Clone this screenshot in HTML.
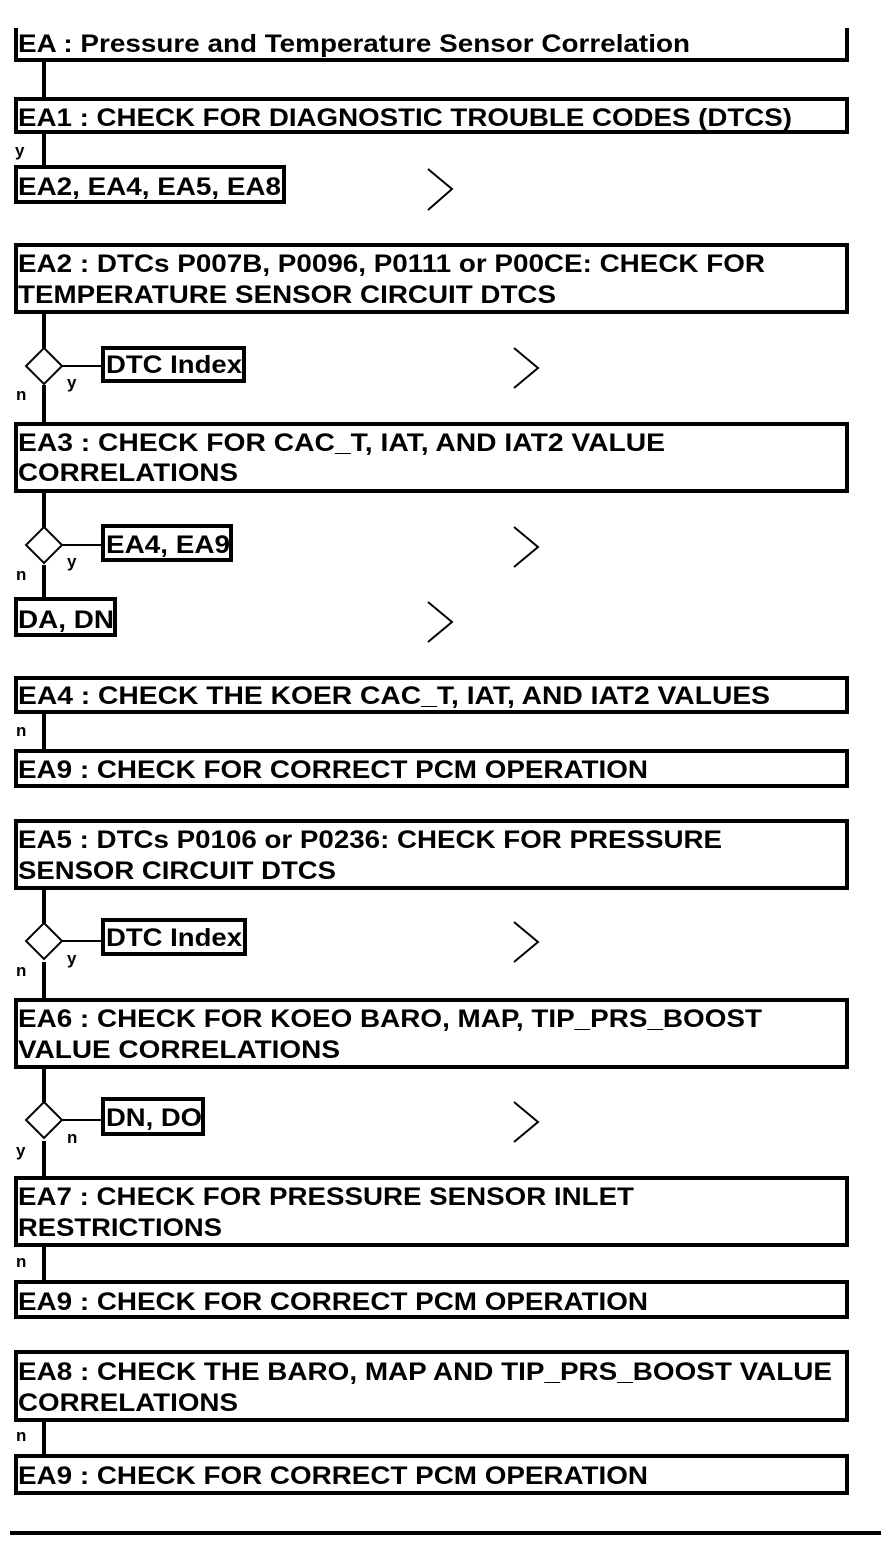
<!DOCTYPE html>
<html><head><meta charset="utf-8"><style>
html,body{margin:0;padding:0;background:#fff;}
svg{display:block;}
text{font-family:"Liberation Sans",Arial,sans-serif;font-weight:bold;fill:#000;}
.t{font-size:25px;}
.s{font-size:17px;}
</style></head><body>
<svg width="896" height="1552" viewBox="0 0 896 1552" xmlns="http://www.w3.org/2000/svg">
<g fill="none" stroke="#000" stroke-width="4">
<!-- top box: no top border -->
<polyline points="16,28 16,60 847,60 847,28"/>
<!-- main boxes -->
<rect x="16" y="99" width="831" height="33"/>
<rect x="16" y="167" width="268" height="35"/>
<rect x="16" y="245" width="831" height="67"/>
<rect x="103" y="348" width="141" height="33"/>
<rect x="16" y="424" width="831" height="67"/>
<rect x="103" y="526" width="128" height="34"/>
<rect x="16" y="599" width="99" height="36"/>
<rect x="16" y="678" width="831" height="34"/>
<rect x="16" y="751" width="831" height="35"/>
<rect x="16" y="821" width="831" height="67"/>
<rect x="103" y="920" width="142" height="34"/>
<rect x="16" y="1000" width="831" height="67"/>
<rect x="103" y="1099" width="100" height="35"/>
<rect x="16" y="1178" width="831" height="67"/>
<rect x="16" y="1282" width="831" height="35"/>
<rect x="16" y="1352" width="831" height="68"/>
<rect x="16" y="1456" width="831" height="37"/>
<!-- vertical connectors -->
<line x1="44" y1="60" x2="44" y2="99"/>
<line x1="44" y1="132" x2="44" y2="167"/>
<line x1="44" y1="312" x2="44" y2="348"/>
<line x1="44" y1="385" x2="44" y2="424"/>
<line x1="44" y1="491" x2="44" y2="527"/>
<line x1="44" y1="565" x2="44" y2="599"/>
<line x1="44" y1="712" x2="44" y2="751"/>
<line x1="44" y1="888" x2="44" y2="923"/>
<line x1="44" y1="962" x2="44" y2="1000"/>
<line x1="44" y1="1067" x2="44" y2="1102"/>
<line x1="44" y1="1141" x2="44" y2="1178"/>
<line x1="44" y1="1245" x2="44" y2="1282"/>
<line x1="44" y1="1420" x2="44" y2="1456"/>
<line x1="10" y1="1533" x2="881" y2="1533"/>
</g>
<g fill="#fff" stroke="#000" stroke-width="2">
<polygon points="44,348 62,366 44,384 26,366"/>
<polygon points="44,527 62,545 44,563 26,545"/>
<polygon points="44,923 62,941 44,959 26,941"/>
<polygon points="44,1102 62,1120 44,1138 26,1120"/>
</g>
<g fill="none" stroke="#000" stroke-width="2">
<line x1="62" y1="366" x2="103" y2="366"/>
<line x1="62" y1="545" x2="103" y2="545"/>
<line x1="62" y1="941" x2="103" y2="941"/>
<line x1="62" y1="1120" x2="103" y2="1120"/>
<polyline points="428,169 452,189 428,210"/>
<polyline points="514,348 538,368 514,388"/>
<polyline points="514,527 538,547 514,567"/>
<polyline points="428,602 452,622 428,642"/>
<polyline points="514,922 538,942 514,962"/>
<polyline points="514,1102 538,1122 514,1142"/>
</g>
<g class="t">
<text x="18" y="52" textLength="672" lengthAdjust="spacingAndGlyphs">EA : Pressure and Temperature Sensor Correlation</text>
<text x="18" y="126" textLength="774" lengthAdjust="spacingAndGlyphs">EA1 : CHECK FOR DIAGNOSTIC TROUBLE CODES (DTCS)</text>
<text x="18" y="195" textLength="263" lengthAdjust="spacingAndGlyphs">EA2, EA4, EA5, EA8</text>
<text x="18" y="272" textLength="747" lengthAdjust="spacingAndGlyphs">EA2 : DTCs P007B, P0096, P0111 or P00CE: CHECK FOR</text>
<text x="18" y="303" textLength="538" lengthAdjust="spacingAndGlyphs">TEMPERATURE SENSOR CIRCUIT DTCS</text>
<text x="106" y="373" textLength="136" lengthAdjust="spacingAndGlyphs">DTC Index</text>
<text x="18" y="451" textLength="647" lengthAdjust="spacingAndGlyphs">EA3 : CHECK FOR CAC_T, IAT, AND IAT2 VALUE</text>
<text x="18" y="481" textLength="220" lengthAdjust="spacingAndGlyphs">CORRELATIONS</text>
<text x="106" y="553" textLength="124" lengthAdjust="spacingAndGlyphs">EA4, EA9</text>
<text x="18" y="628" textLength="96" lengthAdjust="spacingAndGlyphs">DA, DN</text>
<text x="18" y="704" textLength="752" lengthAdjust="spacingAndGlyphs">EA4 : CHECK THE KOER CAC_T, IAT, AND IAT2 VALUES</text>
<text x="18" y="778" textLength="630" lengthAdjust="spacingAndGlyphs">EA9 : CHECK FOR CORRECT PCM OPERATION</text>
<text x="18" y="848" textLength="704" lengthAdjust="spacingAndGlyphs">EA5 : DTCs P0106 or P0236: CHECK FOR PRESSURE</text>
<text x="18" y="879" textLength="318" lengthAdjust="spacingAndGlyphs">SENSOR CIRCUIT DTCS</text>
<text x="106" y="946" textLength="136" lengthAdjust="spacingAndGlyphs">DTC Index</text>
<text x="18" y="1027" textLength="744" lengthAdjust="spacingAndGlyphs">EA6 : CHECK FOR KOEO BARO, MAP, TIP_PRS_BOOST</text>
<text x="18" y="1058" textLength="322" lengthAdjust="spacingAndGlyphs">VALUE CORRELATIONS</text>
<text x="106" y="1126" textLength="96" lengthAdjust="spacingAndGlyphs">DN, DO</text>
<text x="18" y="1205" textLength="616" lengthAdjust="spacingAndGlyphs">EA7 : CHECK FOR PRESSURE SENSOR INLET</text>
<text x="18" y="1236" textLength="204" lengthAdjust="spacingAndGlyphs">RESTRICTIONS</text>
<text x="18" y="1310" textLength="630" lengthAdjust="spacingAndGlyphs">EA9 : CHECK FOR CORRECT PCM OPERATION</text>
<text x="18" y="1380" textLength="814" lengthAdjust="spacingAndGlyphs">EA8 : CHECK THE BARO, MAP AND TIP_PRS_BOOST VALUE</text>
<text x="18" y="1411" textLength="220" lengthAdjust="spacingAndGlyphs">CORRELATIONS</text>
<text x="18" y="1484" textLength="630" lengthAdjust="spacingAndGlyphs">EA9 : CHECK FOR CORRECT PCM OPERATION</text>
</g>
<g class="s">
<text x="15" y="156">y</text>
<text x="67" y="388">y</text>
<text x="16" y="400">n</text>
<text x="67" y="567">y</text>
<text x="16" y="580">n</text>
<text x="16" y="736">n</text>
<text x="67" y="964">y</text>
<text x="16" y="976">n</text>
<text x="67" y="1143">n</text>
<text x="16" y="1156">y</text>
<text x="16" y="1267">n</text>
<text x="16" y="1441">n</text>
</g>
</svg>
</body></html>
